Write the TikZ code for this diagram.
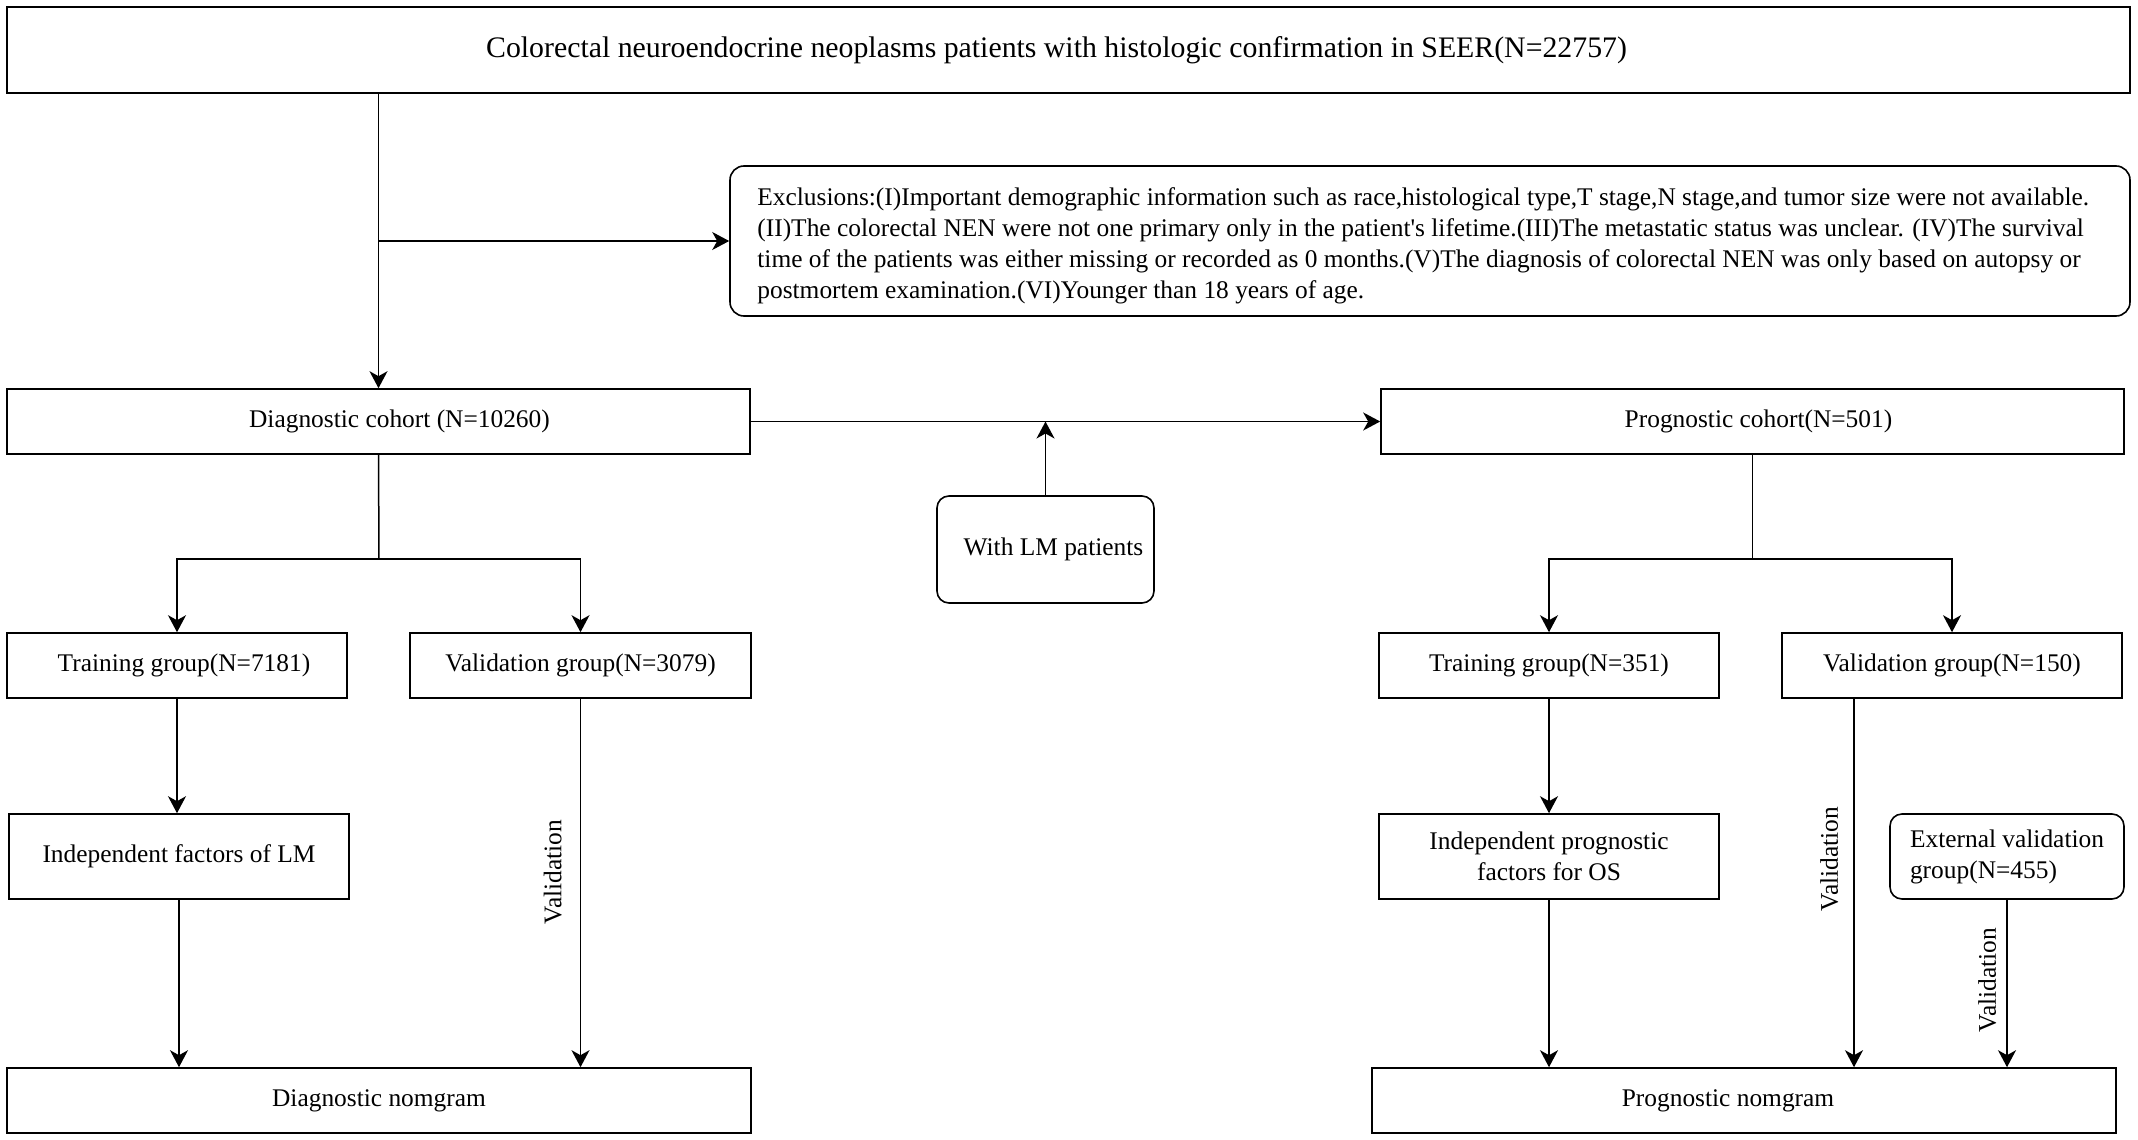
\documentclass[tikz,border=0pt]{standalone}
\usepackage{fontspec}
\setmainfont{Liberation Serif}
\usetikzlibrary{arrows.meta}
\begin{document}
\begin{tikzpicture}[x=0.5pt,y=-0.5pt,
  box/.style={draw, line width=0.8pt, inner sep=0pt, font=\fontsize{12.7}{15.5}\selectfont, align=center},
  rbox/.style={box, rounded corners=6pt},
  arr/.style={line width=0.75pt, -{Stealth[length=8.5pt,width=9pt,inset=2.5pt]}},
  ln/.style={line width=0.75pt},
  vlab/.style={rotate=90, anchor=south, font=\fontsize{12.7}{15.5}\selectfont}
]
\useasboundingbox (0,0) rectangle (2138,1140);
% nodes
\node[box, minimum width=1061.5pt, minimum height=43pt, font=\fontsize{14.9}{17}\selectfont] (top) at (1068.5,50) {Colorectal neuroendocrine neoplasms patients with histologic confirmation in SEER(N=22757)\hspace*{12pt}\mbox{}};
\node[rbox, minimum width=700pt, minimum height=75pt, rounded corners=7pt] (excl) at (1430,241) {};
\node[font=\fontsize{12.7}{15.5}\selectfont, align=left, anchor=west, inner sep=0pt] (excltext) at (757,245.5) {Exclusions:(I)Important demographic information such as race,histological type,T stage,N stage,and tumor size were not available.\\(II)The colorectal NEN were not one primary only in the patient\textquotesingle s lifetime.(III)The metastatic status was unclear. (IV)The survival\\time of the patients was either missing or recorded as 0 months.(V)The diagnosis of colorectal NEN was only based on autopsy or\\postmortem examination.(VI)Younger than 18 years of age.};
\node[box, minimum width=371.5pt, minimum height=32.5pt] (diag) at (378.5,421.5) {\hspace*{21pt}Diagnostic cohort (N=10260)};
\node[box, minimum width=371.5pt, minimum height=32.5pt] (prog) at (1752.5,421.5) {\hspace*{6pt}Prognostic cohort(N=501)};
\node[rbox, minimum width=108.5pt, minimum height=53.5pt] (lm) at (1045.5,549.5) {\hspace*{8pt}With LM patients};
\node[box, minimum width=170pt, minimum height=32.5pt] (train1) at (177,665.5) {\hspace*{7pt}Training group(N=7181)};
\node[box, minimum width=170.5pt, minimum height=32.5pt] (val1) at (580.5,665.5) {Validation group(N=3079)};
\node[box, minimum width=170pt, minimum height=42.5pt] (ind1) at (179,856.5) {Independent factors of LM};
\node[box, minimum width=372pt, minimum height=32.5pt] (dnom) at (379,1100.5) {Diagnostic nomgram};
\node[box, minimum width=170pt, minimum height=32.5pt] (train2) at (1549,665.5) {Training group(N=351)};
\node[box, minimum width=170pt, minimum height=32.5pt] (val2) at (1952,665.5) {Validation group(N=150)};
\node[box, minimum width=170pt, minimum height=42.5pt] (ind2) at (1549,856.5) {Independent prognostic\\factors for OS};
\node[rbox, minimum width=117pt, minimum height=42.5pt, align=left] (ext) at (2007,856.5) {External validation\\group(N=455)};
\node[box, minimum width=372pt, minimum height=32.5pt] (pnom) at (1744,1100.5) {Prognostic nomgram\hspace*{16pt}\mbox{}};
% connectors
\draw[arr] (diag.north |- top.south) -- (diag.north);
\draw[arr] (diag.north |- excl.west) -- (excl.west);
\draw[arr] (diag.east) -- (prog.west);
\draw[arr] (lm.north) -- (lm.north |- diag.east);
\coordinate (b1) at (379,559);
\coordinate (b2) at (1752.5,559);
\draw[ln] (diag.south) -- (b1);
\draw[arr] (b1) -| (train1.north);
\draw[arr] (b1) -| (val1.north);
\draw[ln] (prog.south) -- (b2);
\draw[arr] (b2) -| (train2.north);
\draw[arr] (b2) -| (val2.north);
\draw[arr] (train1.south) -- (train1.south |- ind1.north);
\draw[arr] (ind1.south) -- (ind1.south |- dnom.north);
\draw[arr] (val1.south) -- (val1.south |- dnom.north) node[vlab, pos=0.47, inner sep=9pt] {Validation};
\draw[arr] (train2.south) -- (train2.south |- ind2.north);
\draw[arr] (ind2.south) -- (ind2.south |- pnom.north);
\draw[arr] ([xshift=-49pt]val2.south) -- ([xshift=-49pt]val2.south |- pnom.north) node[vlab, pos=0.435, inner sep=7.5pt] {Validation};
\draw[arr] (ext.south) -- (ext.south |- pnom.north) node[vlab, pos=0.48, inner sep=5pt] {Validation};
\end{tikzpicture}
\end{document}
